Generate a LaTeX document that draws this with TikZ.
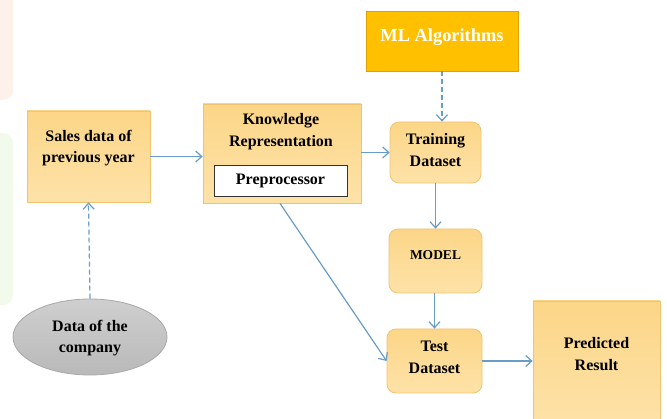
\documentclass[tikz,border=0pt]{standalone}
\usepackage{fontspec}
\setmainfont{Liberation Serif}
\usetikzlibrary{arrows.meta,shapes.geometric}
\definecolor{boxfillA}{HTML}{FCD688}
\definecolor{boxfillB}{HTML}{FDE2A8}
\definecolor{boxline}{HTML}{F2C36E}
\definecolor{mlfill}{HTML}{FFC000}
\definecolor{mlline}{HTML}{E0A200}
\definecolor{flow}{HTML}{6A9CC8}
\definecolor{ovalA}{HTML}{CFCFCF}
\definecolor{ovalB}{HTML}{B9B9B9}
\definecolor{ovalline}{HTML}{A9A9A9}
\definecolor{tintA}{HTML}{FDF1EA}
\definecolor{tintB}{HTML}{F2FAEC}
\tikzset{
  stagebox/.style={draw=boxline, line width=0.8pt, top color=boxfillA, bottom color=boxfillB, inner sep=0pt},
  roundbox/.style={stagebox, rounded corners=9pt},
  label16/.style={font=\bfseries\fontsize{16}{21.5}\selectfont, align=center},
  flowline/.style={draw=flow, line width=1.2pt, -{Straight Barb[length=6pt,width=11pt]}},
  dashflow/.style={flowline, dashed, dash pattern=on 5pt off 3pt}
}
\begin{document}
\begin{tikzpicture}[x=1pt,y=-1pt]
\useasboundingbox (0,0) rectangle (667,419);
\fill[white] (0,0) rectangle (667,419);
% faint panels at the left edge
\begin{scope}
\clip (0,0) rectangle (667,419);
\fill[tintA, rounded corners=10pt] (-20,-20) rectangle (13,100);
\fill[tintB, rounded corners=10pt] (-20,133) rectangle (13,305);
\end{scope}

% stages
\node[stagebox, minimum width=123pt, minimum height=91pt] (sales) at (88.5,156.5) {};
\node[label16] at (88.5,148) {Sales data of\\previous year};

\node[stagebox, minimum width=158pt, minimum height=99pt] (know) at (282,153.5) {};
\node[label16] at (281,131.5) {Knowledge\\Representation};
\node[draw=black!80, fill=white, line width=0.8pt, minimum width=133pt, minimum height=31pt,
  font=\bfseries\fontsize{16}{19}\selectfont] (pre) at (280.5,180.5) {Preprocessor};

\node[draw=mlline, fill=mlfill, line width=0.8pt, minimum width=152pt, minimum height=60pt] (ml) at (442,41) {};
\node[text=white, font=\bfseries\fontsize{18.4}{22}\selectfont] at (442,37) {ML Algorithms};

\node[roundbox, minimum width=91pt, minimum height=61pt] (train) at (435.5,152.5) {};
\node[label16] at (435.5,150) {Training\\Dataset};

\node[roundbox, minimum width=93pt, minimum height=64pt] (model) at (435.5,261) {};
\node[font=\bfseries\fontsize{13.5}{16}\selectfont] at (435.5,255) {MODEL};

\node[roundbox, minimum width=95pt, minimum height=64pt] (test) at (434.5,361) {};
\node[label16] at (434.5,357.5) {Test\\Dataset};

\node[stagebox, minimum width=127pt, minimum height=124pt] (pred) at (596.5,363) {};
\node[label16] at (596.5,354) {Predicted\\Result};

\node[ellipse, draw=ovalline, line width=0.8pt, top color=ovalA, bottom color=ovalB,
  minimum width=154pt, minimum height=76pt, inner sep=0pt] (comp) at (90,337) {};
\node[label16] at (90,338) {Data of the\\company};

% connectors
\draw[dashflow] (comp.north) -- (sales.south);
\draw[flowline] (sales.east) -- (know.west |- sales.east);
\draw[flowline] (know.east |- train.west) -- (train.west);
\draw[dashflow] (ml.south) -- (ml.south |- train.north);
\draw[flowline] (train.south) -- (model.north);
\draw[flowline] (model.south -| test.north) -- (test.north);
\draw[flowline] ([xshift=-2pt]know.south) -- (test.west);
\draw[flowline] (test.east) -- (test.east -| pred.west);
\end{tikzpicture}
\end{document}
